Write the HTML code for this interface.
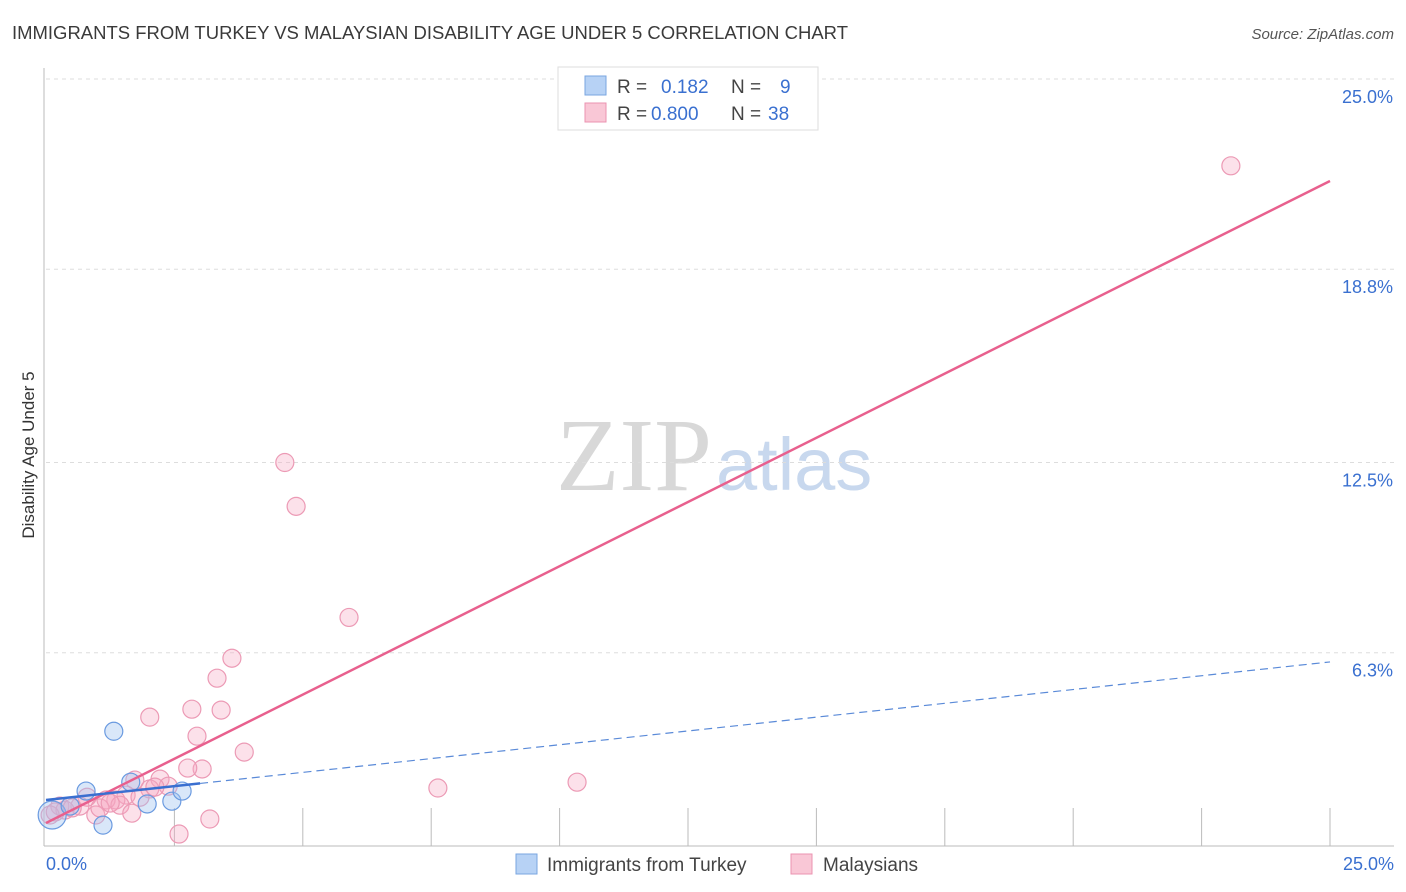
<!DOCTYPE html>
<html><head><meta charset="utf-8"><style>
body{margin:0;background:#fff;font-family:"Liberation Sans",sans-serif;}
#wrap{position:relative;width:1406px;height:892px;overflow:hidden;}
</style></head><body><div id="wrap">
<svg id="svg" width="1406" height="892" xmlns="http://www.w3.org/2000/svg">
<text x="12" y="39" font-size="18" fill="#3a3a3a" textLength="836" lengthAdjust="spacingAndGlyphs">IMMIGRANTS FROM TURKEY VS MALAYSIAN DISABILITY AGE UNDER 5 CORRELATION CHART</text>
<text x="1394" y="39" font-size="15" font-style="italic" fill="#555" text-anchor="end">Source: ZipAtlas.com</text>
<text x="712" y="490" font-size="104" font-family="Liberation Serif,serif" fill="#d8d8d8" text-anchor="end">ZIP</text>
<text x="716" y="490" font-size="74" fill="#c8d8ee">atlas</text>
<text transform="translate(34,455) rotate(-90)" font-size="17" fill="#333" text-anchor="middle">Disability Age Under 5</text>
<g id="grid"></g><g id="marks"></g>
<g>
<rect x="558" y="67" width="260" height="63" fill="#fff" stroke="#ddd"/>
<rect x="585" y="76" width="21" height="19" fill="#b7d2f5" stroke="#7aa6e0"/>
<text x="617" y="93" font-size="19" fill="#444">R = </text><text x="661" y="93" font-size="19" fill="#3a70d0">0.182</text>
<text x="731" y="93" font-size="19" fill="#444">N = </text><text x="780" y="93" font-size="19" fill="#3a70d0">9</text>
<rect x="585" y="103" width="21" height="19" fill="#f9c7d6" stroke="#eb93b0"/>
<text x="617" y="120" font-size="19" fill="#444">R = </text><text x="651" y="120" font-size="19" fill="#3a70d0">0.800</text>
<text x="731" y="120" font-size="19" fill="#444">N = </text><text x="768" y="120" font-size="19" fill="#3a70d0">38</text>
</g>
<g>
<rect x="516" y="854" width="21" height="20" fill="#b7d2f5" stroke="#7aa6e0"/>
<text x="547" y="871" font-size="19" fill="#444">Immigrants from Turkey</text>
<rect x="791" y="854" width="21" height="20" fill="#f9c7d6" stroke="#eb93b0"/>
<text x="823" y="871" font-size="19" fill="#444">Malaysians</text>
</g>
</svg></div>
<script>
const yTicks=[6.3,12.5,18.8,25.0];
const yTickLabels=["6.3%","12.5%","18.8%","25.0%"];
const xTickLabels=["0.0%","25.0%"];
const turkeyX=[0.12,0.47,0.78,1.32,1.11,1.65,1.97,2.45,2.65];
const turkeyY=[1.01,1.30,1.79,3.74,0.68,2.08,1.37,1.46,1.79];
const malayX=[23.07,4.65,4.87,5.90,3.62,3.33,2.84,3.41,2.02,2.94,3.86,3.04,2.76,10.34,7.63,1.73,2.22,2.38,2.02,1.56,1.36,1.17,0.80,0.66,0.27,0.37,0.08,0.18,0.51,1.44,1.67,0.97,3.19,2.59,1.83,1.05,1.25,2.12];
const malayY=[22.17,12.50,11.07,7.45,6.12,5.47,4.46,4.43,4.20,3.58,3.06,2.51,2.54,2.08,1.89,2.15,2.18,1.95,1.86,1.66,1.50,1.50,1.59,1.30,1.30,1.17,1.01,1.11,1.24,1.33,1.07,1.01,0.88,0.39,1.59,1.24,1.40,1.92];
const malayTrend=[0.75,0.837];
const turkeyTrend=[1.50,0.18];
const X=v=>46+v/25*1284, Y=v=>846-v/25*767;
const NS="http://www.w3.org/2000/svg";
function mk(p,t,a){const e=document.createElementNS(NS,t);for(const k in a)e.setAttribute(k,a[k]);p.appendChild(e);return e;}
const grid=document.getElementById('grid'), marks=document.getElementById('marks');
yTicks.forEach((t,i)=>{
 const l=mk(grid,'line',{x1:46,x2:1394,y1:Y(t),y2:Y(t),stroke:'#ddd','stroke-dasharray':'4,4'});
 
 
 const tx=mk(grid,'text',{x:1393,y:Y(t)+24,'font-size':18,fill:'#3a70d0','text-anchor':'end'});
 tx.textContent=yTickLabels[i];
 
 
});
mk(grid,'line',{x1:44,x2:44,y1:68,y2:846,stroke:'#bbb'});
mk(grid,'line',{x1:44,x2:1394,y1:846,y2:846,stroke:'#bbb'});
for(let i=1;i<=10;i++){const t=mk(grid,'line',{x1:X(i*2.5),x2:X(i*2.5),y1:808,y2:846,stroke:'#bbb'});
 
 }
[[0,46,'start'],[1,1394,'end']].forEach(([i,x,a])=>{const t=mk(grid,'text',{x:x,y:870,'font-size':18,fill:'#3a70d0','text-anchor':a});t.textContent=xTickLabels[i];
 
 });
malayX.forEach((v,i)=>{const c=mk(marks,'circle',{cx:X(v),cy:Y(malayY[i]),r:9,fill:'rgba(246,170,196,0.35)',stroke:'#ec9ab5','stroke-width':1.2});
 
 });
turkeyX.forEach((v,i)=>{const c=mk(marks,'circle',{cx:X(v),cy:Y(turkeyY[i]),r:i==0?14:9,fill:'rgba(160,196,240,0.4)',stroke:'#6a9ae0','stroke-width':1.2});
 
 });
const pl=mk(marks,'line',{x1:X(0),y1:Y(malayTrend[0]),x2:X(25),y2:Y(malayTrend[0]+25*malayTrend[1]),stroke:'#e8608e','stroke-width':2.5});


const bs=mk(marks,'line',{x1:X(0),y1:Y(turkeyTrend[0]),x2:X(3),y2:Y(turkeyTrend[0]+3*turkeyTrend[1]),stroke:'#3a6fd0','stroke-width':2.5});


const bd=mk(marks,'line',{x1:X(3),y1:Y(turkeyTrend[0]+3*turkeyTrend[1]),x2:X(25),y2:Y(turkeyTrend[0]+25*turkeyTrend[1]),stroke:'#5a8ad8','stroke-width':1.2,'stroke-dasharray':'8,5'});


</script></body></html>
